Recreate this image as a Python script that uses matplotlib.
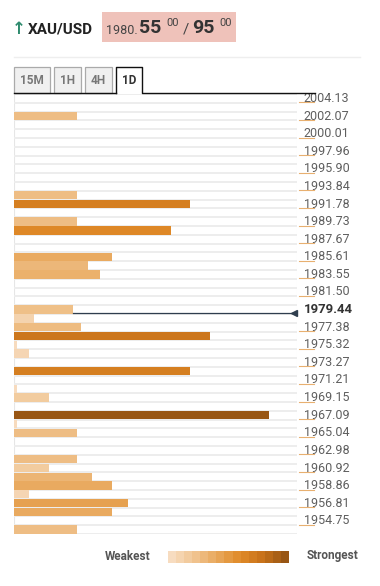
"""
Confluence detector chart for XAU/USD (daily).
"""

import matplotlib
matplotlib.use("Agg")
import matplotlib.pyplot as plt
from matplotlib.colors import LinearSegmentedColormap
from matplotlib.patches import Rectangle
from matplotlib.transforms import blended_transform_factory

plt.rcParams["font.family"] = ["Roboto", "DejaVu Sans"]

# --- Datos ---
symbol = "XAU/USD"
bid_big, ask_big = "55", "95"
price_prefix = "1980."
timeframes = ["15M", "1H", "4H", "1D"]

tick_levels = [2004.13, 2002.07, 2000.01, 1997.96, 1995.90, 1993.84, 1991.78,
               1989.73, 1987.67, 1985.61, 1983.55, 1981.50, 1979.44, 1977.38,
               1975.32, 1973.27, 1971.21, 1969.15, 1967.09, 1965.04, 1962.98,
               1960.92, 1958.86, 1956.81, 1954.75]
current_price = 1979.44

bar_levels = [2002.07, 1992.81, 1991.78, 1989.73, 1988.70, 1985.61, 1984.58,
              1983.55, 1979.44, 1978.41, 1977.38, 1976.35, 1975.32, 1974.30,
              1972.24, 1970.18, 1969.15, 1967.09, 1966.07, 1965.04, 1961.95,
              1960.92, 1959.89, 1958.86, 1957.84, 1956.81, 1955.78, 1953.72]
bar_strength = [3.2, 3.2, 9.0, 3.2, 8.0, 5.0, 3.8, 4.4, 3.0, 1.0, 3.4, 10.0,
                0.15, 0.75, 9.0, 0.15, 1.8, 13.0, 0.15, 3.2, 3.2, 1.8, 4.0,
                5.0, 0.75, 5.8, 5.0, 3.2]

STEP = 1.0287
W, H = 380, 586
cmap = LinearSegmentedColormap.from_list(
    "conf", ["#f7dcc0", "#f0c490", "#e8a85c", "#e08a28", "#c8721a", "#985614"])


def fx(px):
    return px / W


def fy(py):
    return 1 - py / H


def fig_line(xs, ys, **kw):
    fig.add_artist(plt.Line2D([fx(x) for x in xs], [fy(y) for y in ys], **kw))


fig = plt.figure(figsize=(W / 100, H / 100), dpi=100)
fig.patch.set_facecolor("white")

# --- Cabecera ---
fig.text(fx(12), fy(29), "\u2191", color="#2e8b6e", fontsize=12, fontweight="bold",
         va="center", family=["DejaVu Sans"])
fig.text(fx(28), fy(29), symbol, color="#222222", fontsize=11, fontweight="bold", va="center")
fig.patches.append(Rectangle((fx(102), fy(42)), fx(134), 30 / H, transform=fig.transFigure,
                             facecolor="#efc2ba", edgecolor="none"))
fig.text(fx(106), fy(30), price_prefix, color="#444444", fontsize=9, va="center")
fig.text(fx(139), fy(28), bid_big, color="#333333", fontsize=14, fontweight="bold", va="center")
fig.text(fx(166), fy(23), "00", color="#444444", fontsize=8, va="center")
fig.text(fx(183), fy(29), "/", color="#444444", fontsize=11, va="center")
fig.text(fx(192), fy(28), ask_big, color="#333333", fontsize=14, fontweight="bold", va="center")
fig.text(fx(219), fy(23), "00", color="#444444", fontsize=8, va="center")
fig_line([14, 360], [57, 57], color="#eeeeee", lw=1)

# --- Pestañas ---
tabs_x = [(14, 50), (54, 81), (85, 112), (116, 142)]
for (x0, x1), lab in zip(tabs_x, timeframes):
    active = lab == "1D"
    if active:
        fig_line([x0, x0, x1, x1, 315], [93, 67, 67, 93, 93], color="#111111", lw=1)
    else:
        fig.patches.append(Rectangle((fx(x0), fy(93)), fx(x1 - x0), 26 / H,
                                     transform=fig.transFigure, facecolor="#f0f0f0",
                                     edgecolor="#aaaaaa", lw=0.9))
    fig.text(fx((x0 + x1) / 2), fy(80), lab, color="#333333" if active else "#777777",
             fontsize=8.5, fontweight="bold", ha="center", va="center")
fig_line([14, 116], [93, 93], color="#111111", lw=1)

# --- Gráfico de barras ---
ax = fig.add_axes([fx(14), fy(534), fx(283), 440 / H])
top = tick_levels[0] + STEP / 2
bottom = bar_levels[-1] - STEP / 2
ax.set_ylim(bottom, top)
ax.set_xlim(0, 14.44)

# filas con separadores grises
n_rows = int(round((top - bottom) / STEP))
for i in range(n_rows + 1):
    y = top - i * STEP
    ax.axhline(y, color="#ededed", lw=1.4, zorder=1)

colors = [cmap(min(s / 13.0, 1.0)) for s in bar_strength]
ax.barh(bar_levels, bar_strength, height=STEP * 0.94, color=colors, zorder=2)

for s in ax.spines.values():
    s.set_visible(False)
ax.axvline(0, color="#e6e6e6", lw=0.8, zorder=0)
ax.axvline(14.44, color="#f2f2f2", lw=0.8, zorder=0)
ax.set_xticks([])
ax.set_yticks([])

trans = blended_transform_factory(ax.transAxes, ax.transData)
for lv in tick_levels:
    is_cur = abs(lv - current_price) < 1e-6
    ax.text(1.023, lv, f"{lv:.2f}", transform=trans, va="center", ha="left",
            fontsize=9.5 if is_cur else 9, fontweight="bold" if is_cur else "normal",
            color="#333333" if is_cur else "#5e5e5e", clip_on=False)
    if not is_cur:
        ax.plot([1.006, 1.06], [lv - STEP * 0.45] * 2, transform=trans,
                color="#e8b070", lw=0.8, clip_on=False)

# línea del precio actual
cur_idx = bar_levels.index(current_price)
ax.plot([bar_strength[cur_idx], 14.3], [current_price - STEP * 0.35] * 2,
        color="#2f3e4e", lw=0.9, zorder=3, clip_on=False)
ax.plot([14.3], [current_price - STEP * 0.35], marker="<", color="#2f3e4e",
        markersize=5, zorder=3, clip_on=False)

# --- Leyenda ---
fig.text(fx(150), fy(556), "Weakest", color="#555555", fontsize=8.5, fontweight="bold",
         ha="right", va="center")
fig.text(fx(307), fy(556), "Strongest", color="#555555", fontsize=8.5, fontweight="bold",
         ha="left", va="center")
n_leg = 15
lx0, lx1 = 168, 289
wstep = (lx1 - lx0) / n_leg
for i in range(n_leg):
    fig.patches.append(Rectangle((fx(lx0 + i * wstep), fy(563)), fx(wstep + 0.3), 12 / H,
                                 transform=fig.transFigure,
                                 facecolor=cmap(i / (n_leg - 1)), edgecolor="none"))

fig.savefig("out.png", dpi=100)
